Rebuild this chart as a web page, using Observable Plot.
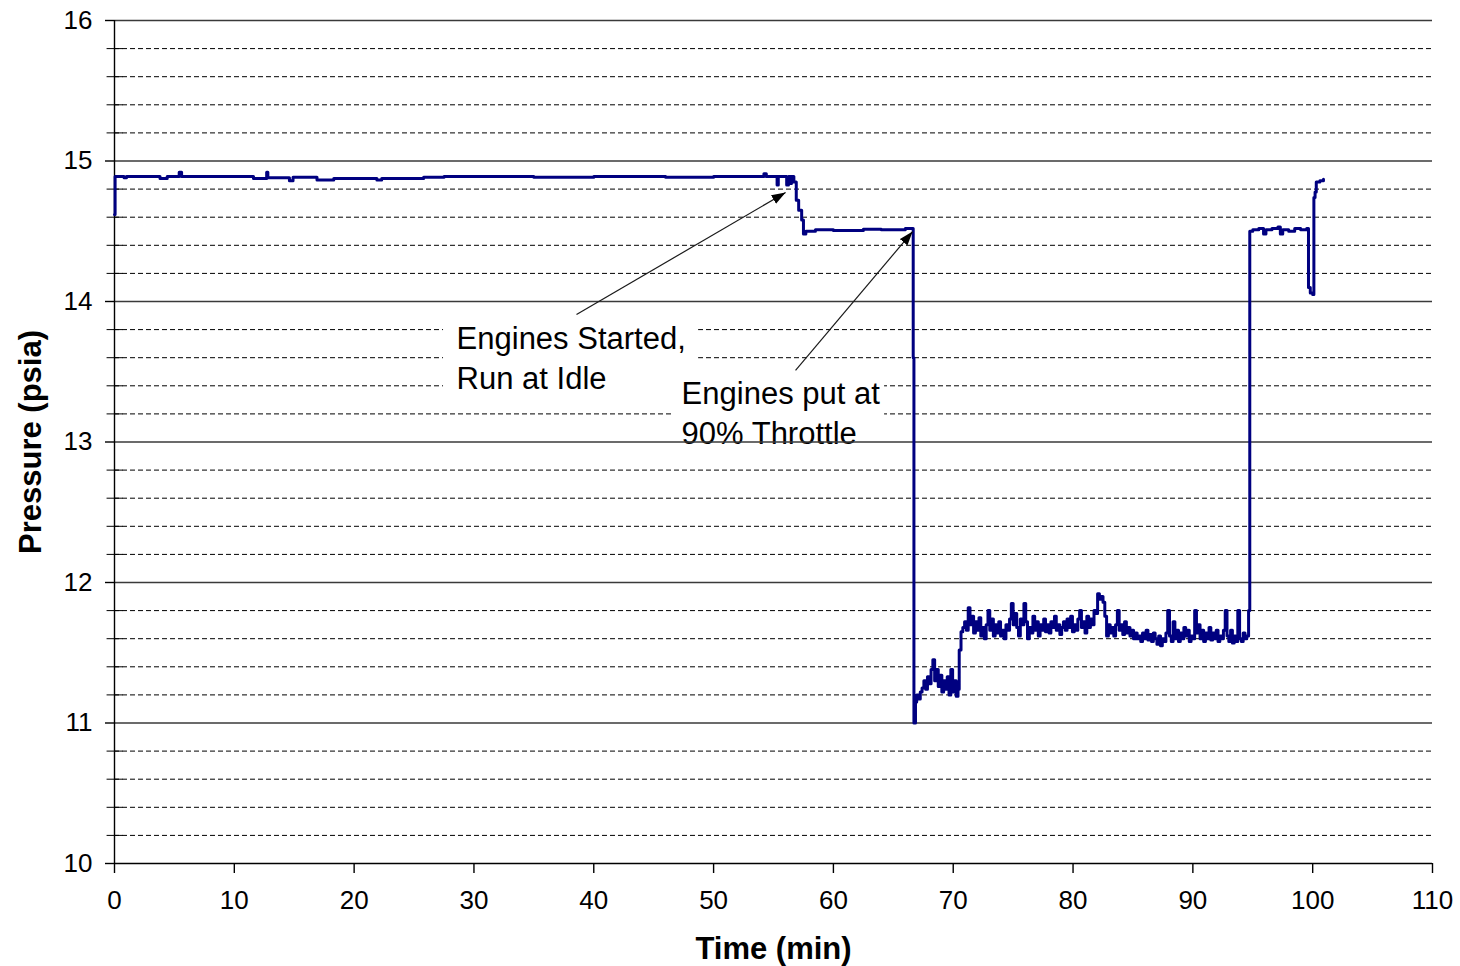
<!DOCTYPE html>
<html>
<head>
<meta charset="utf-8">
<script src="https://cdn.jsdelivr.net/npm/d3@7"></script>
<script src="https://cdn.jsdelivr.net/npm/@observablehq/plot@0.6"></script>
<style>
  html, body { margin: 0; padding: 0; background: #fff; }
  #chart { width: 1460px; height: 966px; }
</style>
</head>
<body>
<div id="chart"></div>
<script>
// ---- Data ----
// Phase 1: engines off, then start & idle
const idleTime = [0, 0.05, 0.8, 1.0, 3.8, 4.4, 5.4, 5.6, 11.6, 12.7, 12.8, 14.6, 14.9, 16.9, 18.3, 21.9, 22.3, 25.8, 27.5, 35, 40, 46, 50, 54.2, 54.4, 55.3, 55.4, 56.1, 56.25, 56.4, 56.5, 56.7, 56.9, 57.1, 57.35, 57.5, 57.7, 58.5, 60, 62.5, 64, 66, 66.62, 66.66];
const idlePressure = [14.62, 14.89, 14.88, 14.89, 14.875, 14.89, 14.92, 14.89, 14.875, 14.92, 14.88, 14.86, 14.885, 14.865, 14.875, 14.865, 14.875, 14.885, 14.89, 14.885, 14.89, 14.885, 14.89, 14.91, 14.89, 14.83, 14.89, 14.83, 14.89, 14.84, 14.89, 14.85, 14.72, 14.65, 14.58, 14.48, 14.5, 14.51, 14.505, 14.515, 14.51, 14.52, 14.52, 13.6];

// Phase 2: 90% throttle, first plateau
const throttleTime = [66.72, 66.85, 66.95, 67.1, 67.25, 67.4, 67.55, 67.7, 67.85, 68.0, 68.15, 68.3, 68.45, 68.6, 68.75, 68.9, 69.05, 69.2, 69.35, 69.5, 69.65, 69.8, 69.95, 70.1, 70.25, 70.4, 70.5, 70.65, 70.8];
const throttlePressure = [11.0, 11.15, 11.2, 11.17, 11.22, 11.25, 11.3, 11.24, 11.33, 11.28, 11.38, 11.45, 11.3, 11.38, 11.26, 11.34, 11.22, 11.3, 11.24, 11.33, 11.2, 11.38, 11.22, 11.3, 11.19, 11.24, 11.52, 11.65, 11.68];

// Phase 3: 90% throttle, second plateau
const cruiseTime = [70.95, 71.1, 71.25, 71.4, 71.55, 71.7, 71.85, 72.0, 72.15, 72.3, 72.45, 72.6, 72.75, 72.9, 73.05, 73.2, 73.35, 73.5, 73.65, 73.8, 73.95, 74.1, 74.25, 74.4, 74.55, 74.7, 74.85, 75.0, 75.15, 75.3, 75.45, 75.6, 75.75, 75.9, 76.05, 76.2, 76.35, 76.5, 76.65, 76.8, 76.95, 77.1, 77.25, 77.4, 77.55, 77.7, 77.85, 78.0, 78.15, 78.3, 78.45, 78.6, 78.75, 78.9, 79.05, 79.2, 79.35, 79.5, 79.65, 79.8, 79.95, 80.1, 80.25, 80.4, 80.55, 80.7, 80.85, 81.0, 81.15, 81.3, 81.45, 81.6, 81.75, 81.9, 82.05, 82.2, 82.35, 82.5, 82.65, 82.8, 82.95, 83.1, 83.25, 83.4, 83.55, 83.7, 83.85, 84.0, 84.15, 84.3, 84.45, 84.6, 84.75, 84.9, 85.05, 85.2, 85.35, 85.5, 85.65, 85.8, 85.95, 86.1, 86.25, 86.4, 86.55, 86.7, 86.85, 87.0, 87.15, 87.3, 87.45, 87.6, 87.75, 87.9, 88.05, 88.2, 88.35, 88.5, 88.65, 88.8, 88.95, 89.1, 89.25, 89.4, 89.55, 89.7, 89.85, 90.0, 90.15, 90.3, 90.45, 90.6, 90.75, 90.9, 91.05, 91.2, 91.35, 91.5, 91.65, 91.8, 91.95, 92.1, 92.25, 92.4, 92.55, 92.7, 92.85, 93.0, 93.15, 93.3, 93.45, 93.6, 93.75, 93.9, 94.05, 94.2, 94.35, 94.5, 94.65];
const cruisePressure = [11.72, 11.66, 11.82, 11.7, 11.76, 11.64, 11.72, 11.66, 11.75, 11.62, 11.68, 11.6, 11.7, 11.8, 11.66, 11.74, 11.62, 11.7, 11.64, 11.72, 11.62, 11.66, 11.6, 11.7, 11.66, 11.74, 11.85, 11.7, 11.78, 11.68, 11.62, 11.74, 11.7, 11.85, 11.72, 11.6, 11.68, 11.64, 11.76, 11.66, 11.72, 11.62, 11.7, 11.66, 11.74, 11.65, 11.7, 11.64, 11.72, 11.68, 11.76, 11.66, 11.7, 11.63, 11.68, 11.72, 11.66, 11.74, 11.68, 11.76, 11.65, 11.7, 11.66, 11.74, 11.8, 11.68, 11.72, 11.64, 11.76, 11.68, 11.74, 11.7, 11.8, 11.78, 11.92, 11.88, 11.9, 11.86, 11.76, 11.62, 11.7, 11.64, 11.68, 11.62, 11.7, 11.8, 11.66, 11.7, 11.63, 11.72, 11.64, 11.68, 11.62, 11.66, 11.6, 11.64, 11.6, 11.62, 11.58, 11.64, 11.6, 11.66, 11.59, 11.63, 11.58, 11.64, 11.6, 11.56, 11.62, 11.55, 11.6, 11.58, 11.64, 11.8, 11.62, 11.58, 11.72, 11.6, 11.66, 11.58, 11.64, 11.6, 11.68, 11.62, 11.66, 11.58, 11.62, 11.6, 11.8, 11.64, 11.7, 11.6, 11.66, 11.58, 11.64, 11.6, 11.68, 11.59, 11.64, 11.6, 11.66, 11.58, 11.62, 11.6, 11.66, 11.8, 11.62, 11.58, 11.66, 11.57, 11.62, 11.58, 11.8, 11.6, 11.58, 11.64, 11.6, 11.62, 11.8];

// Phase 4: back to idle, then shutdown
const shutdownTime = [94.75, 95.0, 95.5, 95.9, 96.1, 96.6, 97.1, 97.3, 97.5, 98.0, 98.5, 99.0, 99.5, 99.65, 99.8, 100.0, 100.1, 100.2, 100.3, 100.6, 100.9];
const shutdownPressure = [14.5, 14.51, 14.52, 14.48, 14.51, 14.52, 14.53, 14.48, 14.51, 14.5, 14.52, 14.51, 14.52, 14.1, 14.06, 14.05, 14.74, 14.78, 14.85, 14.86, 14.87];

// Axis ticks
const xTicks = [0, 10, 20, 30, 40, 50, 60, 70, 80, 90, 100, 110];
const yMajorTicks = [10, 11, 12, 13, 14, 15, 16];
const yMinorTicks = [10.2, 10.4, 10.6, 10.8, 11.2, 11.4, 11.6, 11.8, 12.2, 12.4, 12.6, 12.8, 13.2, 13.4, 13.6, 13.8, 14.2, 14.4, 14.6, 14.8, 15.2, 15.4, 15.6, 15.8];

// Axis titles
const xTitle = "Time (min)";
const yTitle = "Pressure (psia)";

// Annotations
const annotationLabels = ["Engines Started,\nRun at Idle", "Engines put at\n90% Throttle"];
const annotationX = [28.55, 47.33];
const annotationY = [13.609, 13.221];
const annotationBoxX1 = [27.46, 46.66];
const annotationBoxX2 = [48.75, 64.27];
const annotationBoxY1 = [13.281, 13.0];
const annotationBoxY2 = [13.879, 13.509];
const arrowX1 = [38.56, 56.84];
const arrowY1 = [13.907, 13.509];
const arrowX2 = [56.01, 66.61];
const arrowY2 = [14.776, 14.498];

// ---- Build tables ----
const series = [
  ...idleTime.map((t, i) => ({t, p: idlePressure[i]})),
  ...throttleTime.map((t, i) => ({t, p: throttlePressure[i]})),
  ...cruiseTime.map((t, i) => ({t, p: cruisePressure[i]})),
  ...shutdownTime.map((t, i) => ({t, p: shutdownPressure[i]}))
];
const notes = annotationLabels.map((text, i) => ({
  text, x: annotationX[i], y: annotationY[i],
  bx1: annotationBoxX1[i], bx2: annotationBoxX2[i], by1: annotationBoxY1[i], by2: annotationBoxY2[i],
  ax1: arrowX1[i], ay1: arrowY1[i], ax2: arrowX2[i], ay2: arrowY2[i]
}));

const font = "'Liberation Sans', Arial, sans-serif";

const chart = Plot.plot({
  width: 1460,
  height: 966,
  marginLeft: 114,
  marginRight: 28,
  marginTop: 20,
  marginBottom: 103,
  style: {fontFamily: font, background: "#fff", color: "#000", overflow: "visible"},
  x: {domain: [0, 110]},
  y: {domain: [10, 16]},
  marks: [
    // minor dashed gridlines
    Plot.ruleY(yMinorTicks, {stroke: "#000", strokeWidth: 1, strokeDasharray: "5,3"}),
    // minor ticks crossing the y axis
    Plot.ruleY(yMinorTicks, {x1: -0.62, x2: 0.72, stroke: "#000", strokeWidth: 1}),
    // annotation boxes and texts
    Plot.rect(notes, {x1: "bx1", x2: "bx2", y1: "by1", y2: "by2", fill: "#fff"}),
    Plot.text(notes, {x: "x", y: "y", text: "text", textAnchor: "start", lineAnchor: "middle", lineHeight: 1.3, fontSize: 31, fill: "#000"}),
    // major gridlines
    Plot.ruleY(yMajorTicks.filter(d => d > 10), {stroke: "#3a3a3a", strokeWidth: 1.4}),
    // axis lines
    Plot.ruleY([10], {stroke: "#000", strokeWidth: 1.4}),
    Plot.ruleX([0], {y1: 10, y2: 16, stroke: "#000", strokeWidth: 1.4}),
    // data
    Plot.line(series, {x: "t", y: "p", stroke: "#000080", strokeWidth: 3, curve: "step-after"}),
    // arrows
    Plot.link(notes, {x1: "ax1", y1: "ay1", x2: "ax2", y2: "ay2", stroke: "#1a1a1a", strokeWidth: 1.2}),
    // axes
    Plot.axisX(xTicks, {tickSize: 10, tickPadding: 17, fontSize: 26, label: null, stroke: "#000", strokeWidth: 1.4, tickFormat: d => String(d)}),
    Plot.axisY(yMajorTicks, {tickSize: 9, tickPadding: 13, fontSize: 26, label: null, stroke: "#000", strokeWidth: 1.4, tickFormat: d => String(d)}),
    // axis titles
    Plot.text([xTitle], {x: 55, y: 10, text: d => d, dy: 86, fontSize: 31, fontWeight: "bold", fill: "#000"}),
    Plot.text([yTitle], {x: -7.0, y: 13, text: d => d, textAnchor: "middle", rotate: -90, fontSize: 31, fontWeight: "bold", fill: "#000"})
  ]
});

document.getElementById("chart").appendChild(chart);

// filled arrowheads on the annotation links
const svg = d3.select(chart);
svg.insert("defs", ":first-child")
  .append("marker")
  .attr("id", "arrowhead")
  .attr("viewBox", "0 0 14 10")
  .attr("refX", 14).attr("refY", 5)
  .attr("markerWidth", 14).attr("markerHeight", 10)
  .attr("markerUnits", "userSpaceOnUse")
  .attr("orient", "auto")
  .append("path").attr("d", "M0,0L14,5L0,10Z").attr("fill", "#000");
svg.selectAll('g[aria-label="link"] path').attr("marker-end", "url(#arrowhead)");
</script>
</body>
</html>
